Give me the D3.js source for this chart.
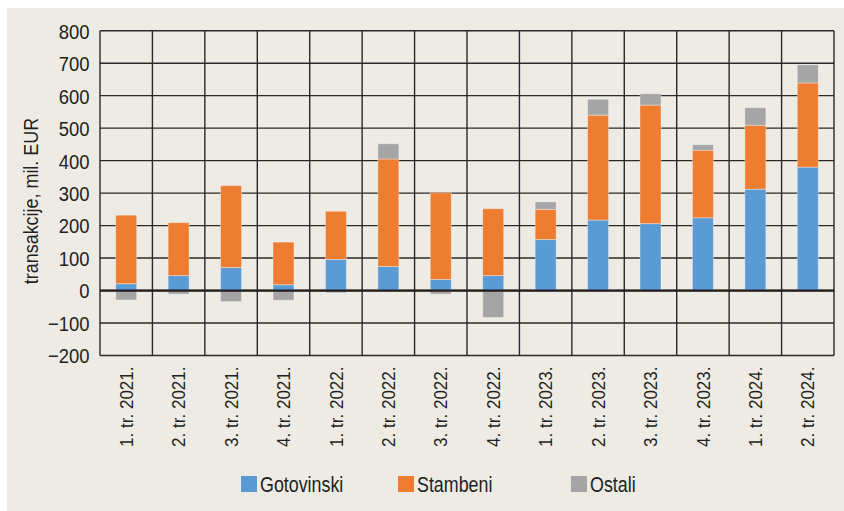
<!DOCTYPE html>
<html>
<head>
<meta charset="utf-8">
<script src="https://cdn.jsdelivr.net/npm/d3@7"></script>
<style>
  body { margin: 0; background: #fff; }
  svg text { font-family: "Liberation Sans", Arial, sans-serif; fill: #231f20; }
</style>
</head>
<body>
<div id="chart"></div>
<script>
const width = 844;
const height = 511;
const margin = { top: 30.7, right: 10, bottom: 155.5, left: 100 };

const quarters = ["1. tr. 2021.", "2. tr. 2021.", "3. tr. 2021.", "4. tr. 2021.",
    "1. tr. 2022.", "2. tr. 2022.", "3. tr. 2022.", "4. tr. 2022.",
    "1. tr. 2023.", "2. tr. 2023.", "3. tr. 2023.", "4. tr. 2023.",
    "1. tr. 2024.", "2. tr. 2024."];
const gotovinski = [21, 46, 71, 18, 96, 74, 34, 46, 157, 217, 206, 224, 312, 380];
const stambeni = [211, 163, 252, 131, 148, 331, 267, 206, 93, 323, 365, 208, 197, 259];
const ostali = [-29, -11, -34, -30, -7, 47, -11, -83, 23, 49, 35, 17, 54, 56];
const yTicks = [-200, -100, 0, 100, 200, 300, 400, 500, 600, 700, 800];

const series = ["Gotovinski", "Stambeni", "Ostali"];
const colors = { Gotovinski: "#5b9bd5", Stambeni: "#ed7d31", Ostali: "#a5a5a5" };

const rows = quarters.map((q, i) => ({
    q: q,
    Gotovinski: gotovinski[i],
    Stambeni: stambeni[i],
    Ostali: ostali[i]
}));

const svg = d3.select("#chart")
    .append("svg")
    .attr("width", width)
    .attr("height", height);

// beige panel
svg.append("rect")
    .attr("x", 7).attr("y", 8)
    .attr("width", width - 7).attr("height", height - 8)
    .attr("fill", "#eeebe5");

const x = d3.scaleBand()
    .domain(quarters)
    .range([margin.left, width - margin.right])
    .paddingInner(0.6)
    .paddingOuter(0.3);

const y = d3.scaleLinear()
    .domain([-200, 800])
    .range([height - margin.bottom, margin.top]);

const step = x.step();
const gap = (step - x.bandwidth()) / 2;

// grid
const grid = svg.append("g").attr("stroke", "#2a2828").attr("stroke-width", 1.4);

grid.selectAll("line.h")
    .data(yTicks)
    .enter().append("line")
    .attr("class", "h")
    .attr("x1", margin.left).attr("x2", width - margin.right)
    .attr("y1", d => y(d)).attr("y2", d => y(d));

const edges = quarters.map(q => x(q) - gap).concat([x(quarters[quarters.length - 1]) + x.bandwidth() + gap]);
grid.selectAll("line.v")
    .data(edges)
    .enter().append("line")
    .attr("class", "v")
    .attr("x1", d => d).attr("x2", d => d)
    .attr("y1", y(-200)).attr("y2", y(800));

// stacked bars
const stack = d3.stack().keys(series).offset(d3.stackOffsetDiverging);
const stacked = stack(rows);

svg.append("g")
    .selectAll("g")
    .data(stacked)
    .enter().append("g")
    .attr("fill", d => colors[d.key])
    .selectAll("rect")
    .data(d => d)
    .enter().append("rect")
    .attr("x", d => x(d.data.q))
    .attr("width", x.bandwidth())
    .attr("y", d => y(Math.max(d[0], d[1])))
    .attr("height", d => Math.abs(y(d[0]) - y(d[1])))
    .attr("stroke", "rgba(255,255,255,0.35)")
    .attr("stroke-width", 1);

// zero line
svg.append("line")
    .attr("x1", margin.left).attr("x2", width - margin.right)
    .attr("y1", y(0)).attr("y2", y(0))
    .attr("stroke", "#231f20")
    .attr("stroke-width", 2.2);

// y axis labels (condensed look via horizontal scale)
const yAxis = svg.append("g")
    .attr("transform", `translate(${margin.left}, 0)`)
    .call(d3.axisLeft(y).tickValues(yTicks).tickSize(0).tickPadding(0)
        .tickFormat(d => d < 0 ? "\u2212" + Math.abs(d) : d));
yAxis.select(".domain").remove();
yAxis.selectAll("text")
    .style("font-size", "20.5px")
    .attr("x", 0)
    .attr("dy", "0.36em")
    .attr("transform", "translate(-10.5, 0) scale(0.9, 1)");

// x axis labels
const xAxis = svg.append("g")
    .attr("transform", `translate(0, ${y(-200)})`)
    .call(d3.axisBottom(x).tickSize(0).tickPadding(0));
xAxis.select(".domain").remove();
xAxis.selectAll("text")
    .style("font-size", "18.5px")
    .attr("transform", "rotate(-90) translate(-11, 0) scale(0.92, 1)")
    .attr("text-anchor", "end")
    .attr("x", 0)
    .attr("y", 0)
    .attr("dy", "0.36em");

// y title
svg.append("text")
    .attr("transform", "translate(31, 201) rotate(-90) scale(0.92, 1)")
    .attr("text-anchor", "middle")
    .attr("dy", "0.36em")
    .style("font-size", "19.5px")
    .text("transakcije, mil. EUR");

// legend
const legendPos = [241, 398, 571];
const legend = svg.append("g")
    .selectAll("g")
    .data(series)
    .enter().append("g")
    .attr("transform", (d, i) => `translate(${legendPos[i]}, 476)`);

legend.append("rect")
    .attr("width", 16).attr("height", 16)
    .attr("fill", d => colors[d]);

legend.append("text")
    .attr("transform", "translate(19, 8) scale(0.83, 1)")
    .attr("dy", "0.36em")
    .style("font-size", "21.5px")
    .text(d => d);
</script>
</body>
</html>
